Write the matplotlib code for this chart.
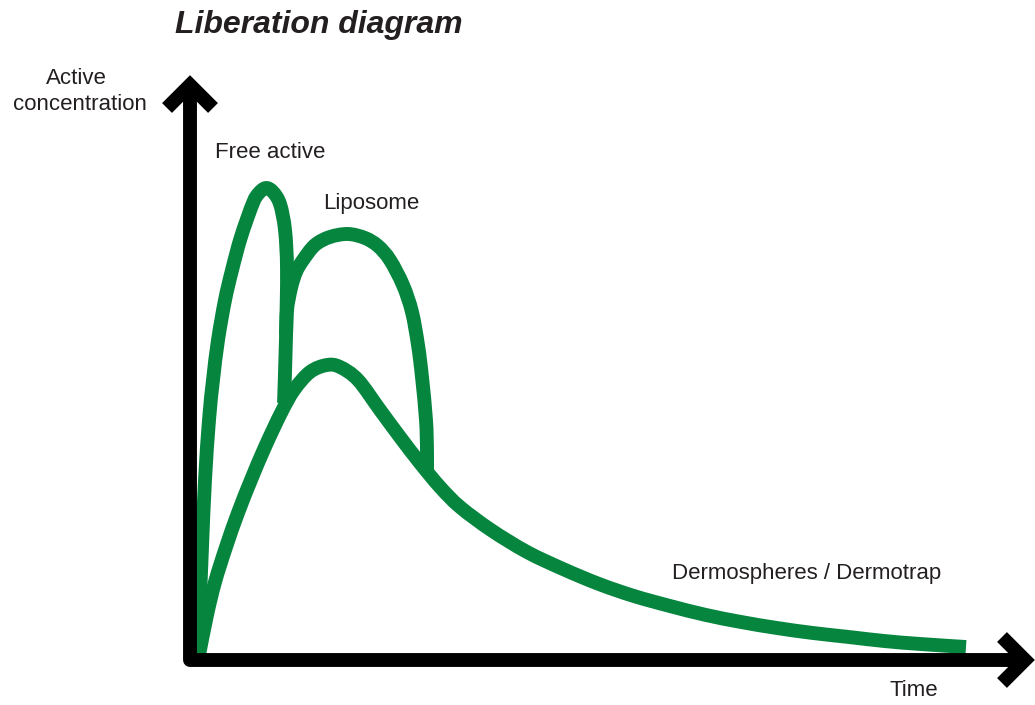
import matplotlib
matplotlib.use("Agg")
import matplotlib.pyplot as plt
import matplotlib.lines as mlines
from matplotlib.path import Path
from matplotlib.patches import PathPatch
import numpy as np

# curves: time (0-100) vs active concentration (0-100)
free_t = [0.13, 0.39, 0.65, 1.04, 1.56, 2.08, 2.73, 3.64, 4.55, 5.71, 7.27, 8.05, 8.96,
          9.87, 10.78, 11.43, 11.69, 11.56, 11.30]
free_c = [0, 11.78, 23.13, 37.47, 50.32, 58.89, 67.45, 76.02, 82.44, 89.51, 96.79, 98.93, 100,
          99.14, 96.57, 91.01, 82.44, 68.09, 53.96]

lipo_t = [11.56, 11.69, 12.21, 12.86, 13.77, 15.32, 17.27, 19.61, 21.82, 23.51, 25.06,
          26.75, 27.92, 28.70, 29.22, 29.74, 29.87, 29.87]
lipo_c = [68.52, 73.88, 78.59, 82.01, 84.58, 87.79, 89.51, 90.15, 89.29, 87.58, 84.58,
          79.23, 73.45, 66.38, 59.53, 50.32, 43.90, 39.61]

derm_t = [0.26, 1.30, 2.34, 3.77, 5.32, 7.01, 8.83, 10.91, 12.60, 14.68, 16.88,
          18.57, 20.91, 23.77, 26.36, 28.96, 31.56, 34.16, 38.18, 42.86, 47.53, 52.21,
          56.75, 61.43, 66.10, 70.65, 75.32, 80.0, 84.68, 89.22, 93.90, 99.87]
derm_c = [0, 8.57, 15.63, 23.13, 30.41, 37.47, 44.54, 51.82, 56.75, 60.60, 62.10,
          61.67, 58.89, 52.46, 46.68, 41.11, 35.97, 31.69, 26.77, 22.06, 18.42, 15.20,
          12.63, 10.49, 8.57, 7.07, 5.78, 4.71, 3.85, 3.00, 2.36, 1.71]

labels = ["Free active", "Liposome", "Dermospheres / Dermotrap"]

green = "#06853f"
txt = "#231f20"
W, H = 1035, 705


def smooth_path(t, c):
    # draw through the read points with Catmull-Rom style bezier segments
    p = np.column_stack([t, c])
    verts = [p[0]]
    codes = [Path.MOVETO]
    n = len(p)
    for i in range(n - 1):
        p0 = p[max(i - 1, 0)]
        p1, p2 = p[i], p[i + 1]
        p3 = p[min(i + 2, n - 1)]
        verts += [p1 + (p2 - p0) / 6, p2 - (p3 - p1) / 6, p2]
        codes += [Path.CURVE4] * 3
    return Path(verts, codes)


fig = plt.figure(figsize=(W / 100, H / 100), dpi=100)
ax = fig.add_axes([197 / W, 50 / H, 770 / W, 467 / H])
ax.set_xlim(0, 100)
ax.set_ylim(0, 100)
ax.axis("off")

for t, c in [(derm_t, derm_c), (lipo_t, lipo_c), (free_t, free_c)]:
    ax.add_patch(PathPatch(smooth_path(t, c), fill=False, edgecolor=green, lw=10,
                           capstyle="butt", joinstyle="round", clip_on=False, zorder=2))

# axes with chevron arrow heads, in figure pixels (y from top)
def add_line(xs, ys, join="round"):
    fig.add_artist(mlines.Line2D(xs, [H - y for y in ys], transform=None, color="black",
                                 lw=10, solid_joinstyle=join, solid_capstyle="butt", zorder=5))

add_line([190, 190, 1022], [88, 660, 660])
add_line([167, 190, 213], [108, 85, 108], join="miter")
add_line([1002, 1025, 1002], [637, 660, 683], join="miter")

font = "Liberation Sans"
fig.text(175 / W, 1 - 25 / H, "Liberation diagram", family=font,
         weight="bold", style="italic", fontsize=23, va="center", ha="left", color=txt)
fig.text(76 / W, 1 - 78 / H, "Active", family=font, fontsize=16,
         ha="center", va="center", color=txt)
fig.text(80 / W, 1 - 105 / H, "concentration", family=font, fontsize=16,
         ha="center", va="center", color=txt)
fig.text(914 / W, 1 - 690 / H, "Time", family=font, fontsize=16,
         ha="center", va="center", color=txt)
fig.text(215 / W, 1 - 153 / H, labels[0], family=font, fontsize=16,
         ha="left", va="center", color=txt)
fig.text(323 / W, 1 - 203 / H, labels[1], family=font, fontsize=16,
         ha="left", va="center", color=txt)
fig.text(672 / W, 1 - 573 / H, labels[2], family=font, fontsize=16,
         ha="left", va="center", color=txt)

fig.savefig("out.png", dpi=100)
